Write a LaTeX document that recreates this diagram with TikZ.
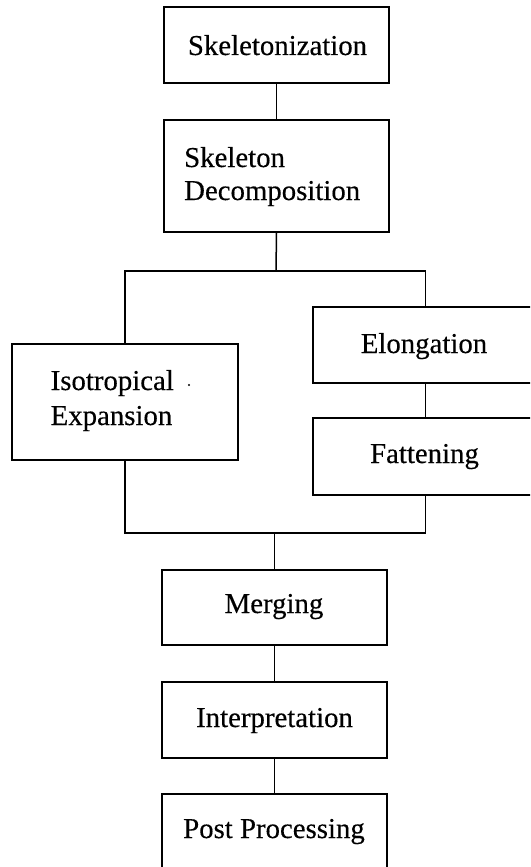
\documentclass[tikz,border=0pt]{standalone}
\usepackage{fontspec}
\setmainfont[FakeBold=0.3]{Liberation Serif}
\begin{document}
\begin{tikzpicture}[x=1pt,y=-1pt,
  box/.style={draw=black, line width=1.8pt, rectangle, inner sep=0pt, minimum width=225pt},
  lbl/.style={inner sep=0pt, font=\fontsize{28.8}{33}\selectfont},
  link/.style={draw=black, line width=1.5pt}]
  % page frame; the side and bottom boxes run off the page edge
  \useasboundingbox (0,0) rectangle (530,867);
  \clip (0,0) rectangle (530,867);

  % process boxes
  \node[box, minimum height=76pt]  (skel)   at (276.5,45)  {};
  \node[box, minimum height=112pt] (decomp) at (276.5,176) {};
  \node[box, minimum width=226pt, minimum height=116pt] (iso) at (125,402) {};
  \node[box, minimum height=76pt]  (elong)  at (425.5,345) {};
  \node[box, minimum height=77pt]  (fat)    at (425.5,456.5) {};
  \node[box, minimum height=75pt]  (merge)  at (274.5,607.5) {};
  \node[box, minimum height=76pt]  (interp) at (274.5,720) {};
  \node[box, minimum height=76pt]  (post)   at (274.5,832) {};

  % labels
  \node[lbl, anchor=base] (tskel) at (277.5,55) {Skeletonization};
  \node[lbl, anchor=base west] (tdec1) at (184,167) {Skeleton};
  \node[lbl, anchor=base west] (tdec2) at (184,200) {Decomposition};
  \node[lbl, anchor=base west] (tiso1) at (50.5,390) {Isotropical};
  \node[lbl, anchor=base west] (tiso2) at (50.5,425) {Expansion};
  \node[lbl, anchor=base] (telong) at (424,353) {Elongation};
  \node[lbl, anchor=base] (tfat) at (424.5,463) {Fattening};
  \node[lbl, anchor=base] (tmerge) at (274,613) {Merging};
  \node[lbl, anchor=base] (tinterp) at (274.5,727) {Interpretation};
  \node[lbl, anchor=base] (tpost) at (274,838) {Post Processing};
  \fill (189,385) circle (1.1pt);

  % branch and join points
  \coordinate (split) at (276,271);
  \coordinate (join) at (274.5,533);

  % connectors
  \draw[link] (skel.south) -- (decomp.north);
  \draw[link] (decomp.south) -- (split);
  \draw[link] (iso.north) |- (split) -| (elong.north);
  \draw[link] (elong.south) -- (fat.north);
  \draw[link] (iso.south) |- (join) -| (fat.south);
  \draw[link] (join) -- (merge.north);
  \draw[link] (merge.south) -- (interp.north);
  \draw[link] (interp.south) -- (post.north);
\end{tikzpicture}
\end{document}
